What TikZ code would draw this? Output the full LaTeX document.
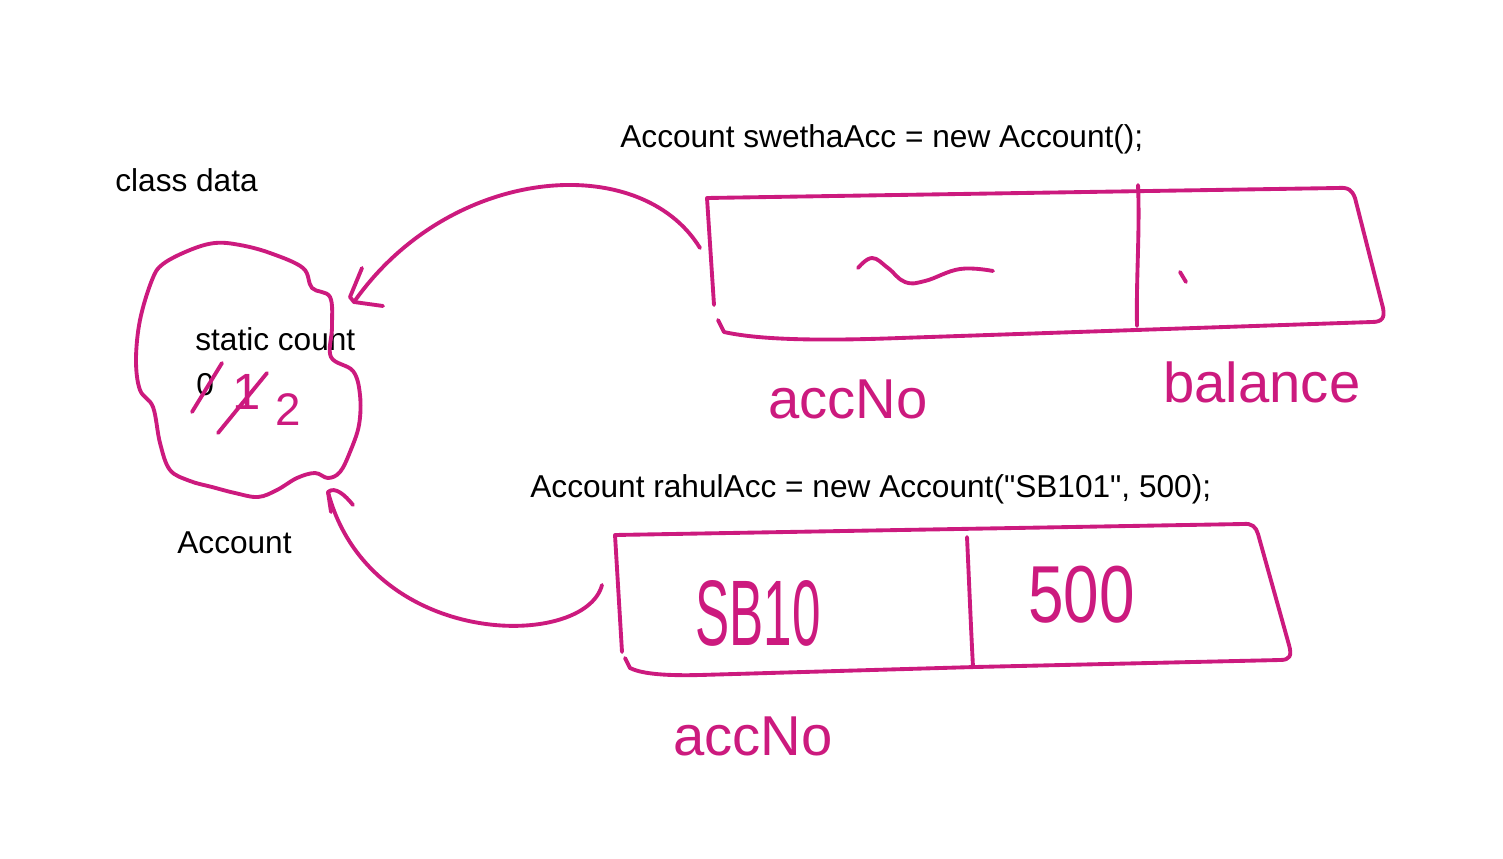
\documentclass[tikz,border=0pt]{standalone}
\usepackage{fontspec}
\setmainfont{Liberation Sans}
\definecolor{penc}{HTML}{CC1A7E}
\begin{document}
\begin{tikzpicture}[x=0.02cm,y=-0.02cm,
  pen/.style={draw=penc, line width=2.2pt, line cap=round, line join=round},
  code/.style={anchor=base west, inner sep=0, font=\fontsize{18}{20}\selectfont},
  hand/.style={anchor=base west, inner sep=0, text=penc, font=\fontsize{32}{34}\selectfont}]
\useasboundingbox (0,0) rectangle (1503,858);

% texts
\node[code] (classdata) at (115,192) {class data};
\node[code] (code1) at (620,148) {Account swethaAcc = new Account();};
\node[code] (code2) at (530,497) {Account rahulAcc = new Account(\textquotedbl SB101\textquotedbl, 500);};
\node[code] (static) at (195,350) {static count};
\node[code] (zero) at (196,395) {0};
\node[code] (acclabel) at (177,553) {Account};

% class data blob
\draw[pen] plot[smooth cycle, tension=0.6] coordinates {(215,243) (240,245) (270,253) (303,268) (312,288) (330,297) (332,327) (331,357) (353,371) (360,395) (359,425) (350,452) (340,472) (328,478) (315,473) (297,478) (277,490) (258,497) (235,493) (212,487) (190,481) (170,470) (160,443) (153,407) (140,390) (136,360) (140,320) (152,280) (163,264) (190,250)};

% count changes
\draw[pen] (192,412) -- (222,363);
\node[anchor=center, inner sep=0, text=penc, font=\fontsize{29}{30}\selectfont] (one) at (247,392) {1};
\draw[pen] (218,433) -- (267,373);
\node[anchor=center, inner sep=0, text=penc, font=\fontsize{26}{28}\selectfont] (two) at (288,410) {2};

% top object
\draw[pen] (714,305) -- (707,198) -- (1338,188) .. controls (1348,187) and (1352,190) .. (1355,198) -- (1383,308) .. controls (1385,318) and (1382,322) .. (1372,322) -- (900,338) .. controls (820,341) and (760,340) .. (724,332) -- (718,320);
\draw[pen] (1138,185) .. controls (1140,230) and (1136,280) .. (1137,326);
\draw[pen] plot[smooth, tension=0.7] coordinates {(858,268) (872,258) (888,268) (905,282) (925,281) (960,269) (993,271)};
\draw[pen] (1180,272) -- (1186,282);
\node[hand] (accno1) at (768,418) {accNo};
\node[hand] (balance) at (1163,402) {balance};

% bottom object
\draw[pen] (622,652) -- (615,535) -- (1243,524) .. controls (1252,523) and (1256,527) .. (1258,534) -- (1289,645) .. controls (1292,656) and (1290,660) .. (1280,660) -- (975,667) -- (700,675) .. controls (660,676) and (640,673) .. (630,668) -- (625,658);
\draw[pen] (967,537) .. controls (969,580) and (971,630) .. (973,667);
\node[anchor=base west, inner sep=0, text=penc, font=\fontsize{53}{55}\selectfont] (sb10) at (695,645) {\scalebox{0.55}[1]{SB10}};
\node[anchor=base west, inner sep=0, text=penc, font=\fontsize{46}{48}\selectfont] (v500) at (1028,622) {\scalebox{0.79}[1]{500}};
\node[hand] (accno2) at (673,755) {accNo};

% arrows
\coordinate (s1) at (700,248);
\coordinate (t1) at (354,302);
\draw[pen] (s1) .. controls (640,150) and (450,165) .. (t1);
\coordinate (h1a) at (362,268);
\coordinate (h1b) at (383,306);
\draw[pen] (h1a) -- (350,297) -- (t1) -- (h1b);

\coordinate (s2) at (602,585);
\coordinate (t2) at (328,492);
\draw[pen] (s2) .. controls (585,650) and (370,650) .. (t2);
\coordinate (h2a) at (331,512);
\coordinate (h2b) at (353,505);
\draw[pen] (h2a) -- (t2) .. controls (335,486) and (345,495) .. (h2b);
\end{tikzpicture}
\end{document}
